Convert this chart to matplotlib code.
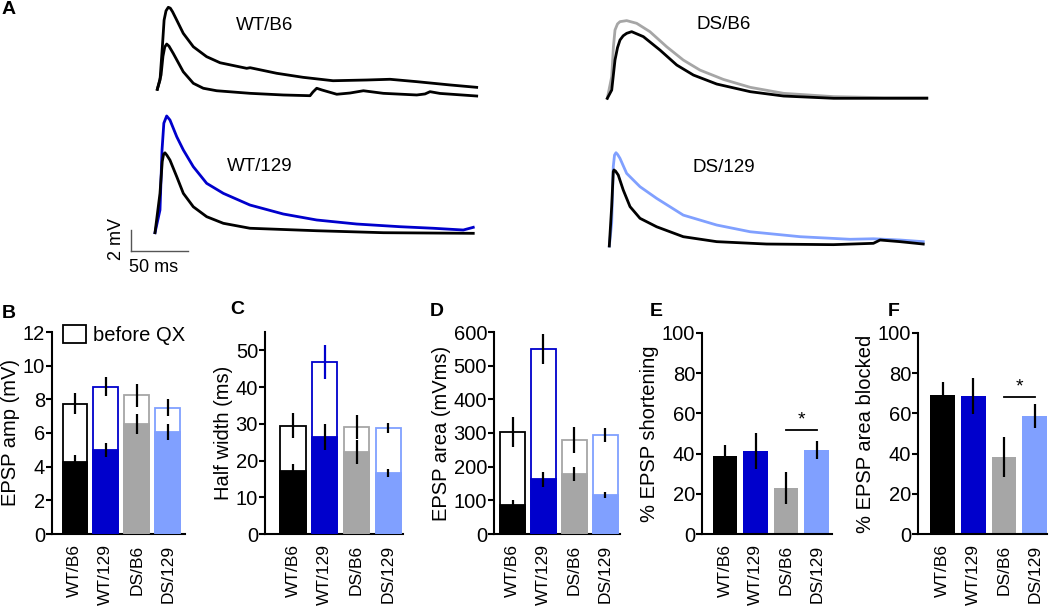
import numpy as np
import matplotlib
matplotlib.use('Agg')
import matplotlib.pyplot as plt
from matplotlib.patches import Patch

plt.rcParams['font.family'] = ['Liberation Sans', 'DejaVu Sans']

groups = ['WT/B6', 'WT/129', 'DS/B6', 'DS/129']
colors = ['#000000', '#0000CC', '#A6A6A6', '#80A0FF']

# ---- example traces (ms, mV) ----
wtb6_ctrl_t = [0, 2.4, 4.4, 6.0, 7.7, 9.7, 11.5, 13.5, 17.1, 22.9, 31.8, 43.5, 55.4, 78.9, 81.9,
               105.4, 128.6, 155.1, 184.8, 205.4, 228.9, 258.4, 281.9]
wtb6_ctrl_v = [0, 0.9, 4.0, 6.7, 7.6, 7.94, 7.85, 7.5, 6.71, 5.42, 4.12, 3.16, 2.57, 2.03, 2.09,
               1.55, 1.16, 0.83, 0.90, 0.97, 0.74, 0.42, 0.19]
wtb6_qx_t = [0, 3.3, 5.0, 6.6, 8.3, 10.3, 14.1, 22.9, 31.8, 40.6, 52.4, 81.9, 111.2, 134.8, 137.4,
             140.7, 145.4, 158.4, 170.1, 181.9, 199.5, 229.0, 236.3, 240.7, 249.5, 281.9]
wtb6_qx_v = [0, 1.38, 3.2, 4.1, 4.38, 4.18, 3.47, 1.70, 0.58, 0.10, -0.14, -0.39, -0.55, -0.62,
             -0.26, 0.10, -0.07, -0.48, -0.36, -0.14, -0.39, -0.55, -0.45, -0.23, -0.40, -0.65]

wt129_ctrl_t = [0, 4.4, 6.2, 7.8, 10.3, 13.2, 19.2, 25.0, 33.8, 45.6, 60.3, 83.8, 113.2, 142.7,
                178.0, 216.2, 245.6, 272.1, 280.9]
wt129_ctrl_v = [0, 2.20, 8.0, 10.6, 11.30, 10.91, 9.29, 8.01, 6.39, 4.78, 3.81, 2.68, 1.81, 1.23,
                0.84, 0.58, 0.43, 0.26, 0.52]
wt129_qx_t = [0, 4.4, 6.4, 7.6, 8.8, 10.5, 13.2, 19.2, 25.0, 33.8, 45.6, 60.3, 83.8, 142.7,
              201.6, 280.9]
wt129_qx_v = [0, 3.81, 6.9, 7.6, 7.73, 7.5, 7.03, 5.42, 3.81, 2.51, 1.55, 0.91, 0.43, 0.19, 0,
              -0.06]

dsb6_ctrl_t = [0, 3.9, 5.4, 6.8, 9.0, 11.2, 17.1, 25.9, 37.6, 52.4, 67.1, 81.8, 102.4, 126.2,
               155.6, 199.8, 243.9, 282.0]
dsb6_ctrl_v = [0, 2.10, 5.0, 6.61, 7.2, 7.42, 7.52, 7.26, 6.45, 4.99, 3.70, 2.73, 1.83, 1.06,
               0.48, 0.16, 0.06, 0.06]
dsb6_qx_t = [0, 3.9, 6.8, 9.0, 11.2, 14.0, 17.1, 21.5, 31.8, 46.5, 61.3, 76.0, 96.6, 126.2,
             155.6, 199.8, 282.0]
dsb6_qx_v = [0, 0.80, 3.71, 4.9, 5.64, 6.05, 6.29, 6.45, 5.97, 4.67, 3.22, 2.25, 1.38, 0.64,
             0.22, 0, 0]

ds129_ctrl_t = [0, 2.1, 3.5, 4.6, 5.9, 7.4, 9.4, 15.3, 27.1, 41.8, 65.3, 94.8, 124.3, 168.4,
                212.5, 233.1, 256.6, 277.1]
ds129_ctrl_v = [0, 2.20, 7.68, 8.8, 9.03, 8.85, 8.49, 7.03, 5.74, 4.61, 2.99, 2.03, 1.38, 0.90,
                0.65, 0.70, 0.58, 0.42]
ds129_qx_t = [0, 2.1, 3.5, 4.1, 5.5, 7.9, 12.3, 18.3, 27.1, 41.8, 65.3, 94.8, 138.9, 197.8,
              233.1, 239.0, 256.6, 277.1]
ds129_qx_v = [0, 3.81, 7.20, 7.36, 7.25, 6.87, 5.42, 3.81, 2.68, 1.86, 0.90, 0.42, 0.19, 0.13,
              0.26, 0.58, 0.42, 0.19]

# ---- bar data: before QX (open) and after QX (filled), mean and sem ----
amp_before = [7.75, 8.75, 8.25, 7.5]
amp_before_err = [0.6, 0.57, 0.68, 0.5]
amp_after = [4.25, 4.97, 6.55, 6.05]
amp_after_err = [0.42, 0.42, 0.58, 0.48]

hw_before = [29.5, 46.8, 29.1, 28.9]
hw_before_err = [3.4, 4.6, 3.2, 1.4]
hw_after = [17.1, 26.4, 22.3, 16.5]
hw_after_err = [2.0, 3.5, 3.2, 1.1]

area_before = [303, 550, 279, 294]
area_before_err = [45, 45, 38, 21]
area_after = [85, 162, 179, 117]
area_after_err = [15, 21, 21, 9]

shortening = [38.8, 41.3, 22.8, 41.8]
shortening_err = [5.5, 9.1, 7.8, 4.4]

blocked = [69.0, 68.6, 38.5, 58.7]
blocked_err = [6.5, 9.0, 9.9, 6.0]

W, H = 1050, 609
fig = plt.figure(figsize=(10.5, 6.09), dpi=100)


def rect(l, r, top, bot):
    return [l / W, (H - bot) / H, (r - l) / W, (bot - top) / H]


# ---- panel A traces ----
PX_MS, PX_MV = 1.133, 10.33
T0, T1, V0, V1 = -45, 300, -4, 12.5


def trace_ax(ox, oy):
    l = ox + T0 * PX_MS
    r = ox + T1 * PX_MS
    top = oy - V1 * PX_MV
    bot = oy - V0 * PX_MV
    a = fig.add_axes(rect(l, r, top, bot))
    a.set_xlim(T0, T1)
    a.set_ylim(V0, V1)
    a.axis('off')
    a.patch.set_alpha(0)
    return a


lw_tr = 2.0
lab_fs = 13.5
a1 = trace_ax(157.3, 89.3)
a1.plot(wtb6_ctrl_t, wtb6_ctrl_v, color='k', lw=lw_tr)
a1.plot(wtb6_qx_t, wtb6_qx_v, color='k', lw=lw_tr)
a1.text(95, 6.2, 'WT/B6', ha='center', va='center', fontsize=lab_fs)

a2 = trace_ax(155, 232.7)
a2.plot(wt129_ctrl_t, wt129_ctrl_v, color=colors[1], lw=lw_tr)
a2.plot(wt129_qx_t, wt129_qx_v, color='k', lw=lw_tr)
a2.text(92.7, 6.4, 'WT/129', ha='center', va='center', fontsize=lab_fs)
# scale bar
a2.plot([-21.2, 28.8], [-1.77, -1.77], color='#555555', lw=1.0)
a2.plot([-21.2, -21.2], [-1.77, 0.23], color='#555555', lw=1.0)
a2.text(-34.4, -0.6, '2 mV', rotation=90, ha='center', va='center', fontsize=13)
a2.text(-0.9, -3.4, '50 ms', ha='center', va='center', fontsize=13)

a3 = trace_ax(607.3, 98.3)
a3.plot(dsb6_ctrl_t, dsb6_ctrl_v, color=colors[2], lw=lw_tr)
a3.plot(dsb6_qx_t, dsb6_qx_v, color='k', lw=lw_tr)
a3.text(103, 7.1, 'DS/B6', ha='center', va='center', fontsize=lab_fs)

a4 = trace_ax(609.3, 246)
a4.plot(ds129_ctrl_t, ds129_ctrl_v, color=colors[3], lw=lw_tr)
a4.plot(ds129_qx_t, ds129_qx_v, color='k', lw=lw_tr)
a4.text(101.2, 7.6, 'DS/129', ha='center', va='center', fontsize=lab_fs)


# ---- bar panels ----
def style(ax, ylabel, yticks, ylim, xlim):
    ax.set_xlim(*xlim)
    ax.set_ylim(*ylim)
    ax.set_yticks(yticks)
    ax.set_xticks(range(4))
    ax.set_xticklabels(groups, rotation=90, fontsize=12.5)
    ax.tick_params(axis='x', length=0, pad=7.5)
    ax.tick_params(axis='y', length=4, width=1.5, pad=1, labelsize=14.5)
    for s in ['top', 'right']:
        ax.spines[s].set_visible(False)
    for s in ['left', 'bottom']:
        ax.spines[s].set_linewidth(1.5)
    ax.set_ylabel(ylabel, fontsize=14.5, labelpad=2)


def before_after(ax, before, before_err, after, after_err, err_cols=None):
    x = np.arange(4)
    if err_cols is None:
        err_cols = ['k'] * 4
    ax.bar(x, before, width=0.8, facecolor='white', edgecolor=colors, linewidth=1.3, zorder=1)
    for i in range(4):
        ax.errorbar(x[i], before[i], yerr=before_err[i], fmt='none', ecolor=err_cols[i],
                    elinewidth=1.6, capsize=0, zorder=2)
    ax.bar(x, after, width=0.8, color=colors, edgecolor=colors, linewidth=1.3, zorder=3)
    ax.errorbar(x, after, yerr=after_err, fmt='none', ecolor='k', elinewidth=1.6,
                capsize=0, zorder=4)


axB = fig.add_axes(rect(52, 185, 332, 534))
before_after(axB, amp_before, amp_before_err, amp_after, amp_after_err)
style(axB, 'EPSP amp (mV)', range(0, 13, 2), (0, 12), (-0.74, 3.56))
axB.legend(handles=[Patch(facecolor='white', edgecolor='k', linewidth=1.3)], labels=['before QX'],
           loc='upper left', bbox_to_anchor=((63 - 52) / 133, 1 + 7 / 202), frameon=False,
           borderaxespad=0, borderpad=0, handlelength=1.15, handleheight=1.0,
           handletextpad=0.35, fontsize=14.5)

axC = fig.add_axes(rect(265, 403, 332, 534))
before_after(axC, hw_before, hw_before_err, hw_after, hw_after_err,
             err_cols=['k', colors[1], 'k', 'k'])
style(axC, 'Half width (ms)', range(0, 51, 10), (0, 55), (-0.88, 3.46))

axD = fig.add_axes(rect(494, 620, 332, 534))
before_after(axD, area_before, area_before_err, area_after, area_after_err)
style(axD, 'EPSP area (mVms)', range(0, 601, 100), (0, 600), (-0.6, 3.48))


def single(ax, vals, errs):
    x = np.arange(4)
    ax.bar(x, vals, width=0.8, color=colors, zorder=1)
    ax.errorbar(x, vals, yerr=errs, fmt='none', ecolor='k', elinewidth=1.6, capsize=0, zorder=2)


axE = fig.add_axes(rect(702, 832, 333, 534))
single(axE, shortening, shortening_err)
style(axE, '% EPSP shortening', range(0, 101, 20), (0, 100), (-0.75, 3.5))
axE.plot([2, 3], [51.7, 51.7], color='k', lw=1.3)
axE.text(2.5, 52.5, '*', ha='center', va='bottom', fontsize=14)

axF = fig.add_axes(rect(918, 1047, 333, 534))
single(axF, blocked, blocked_err)
style(axF, '% EPSP area blocked', range(0, 101, 20), (0, 100), (-0.8, 3.4))
axF.plot([2, 3], [68.3, 68.3], color='k', lw=1.3)
axF.text(2.5, 69.1, '*', ha='center', va='bottom', fontsize=14)

# panel letters
for lab, x, y in [('A', 2, 10), ('B', 2, 313), ('C', 230, 310), ('D', 430, 311),
                  ('E', 650, 311), ('F', 888, 311)]:
    fig.text(x / W, 1 - y / H, lab, fontsize=14, fontweight='bold', ha='left', va='center')

fig.savefig('out.png', dpi=100)
